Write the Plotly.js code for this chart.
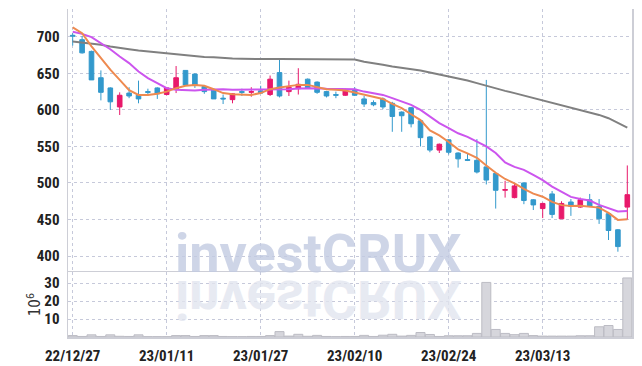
<!DOCTYPE html>
<html>
<head>
<meta charset="utf-8">
<script src="https://cdn.plot.ly/plotly-3.0.1.min.js"></script>
<style>
html,body{margin:0;padding:0;background:#fff;}
#chart{width:642px;height:366px;}
</style>
</head>
<body>
<div id="chart"></div>
<script>
const dates = ["2022-12-27","2022-12-28","2022-12-29","2023-01-02","2023-01-03","2023-01-04","2023-01-05","2023-01-06","2023-01-09","2023-01-10",
"2023-01-11","2023-01-12","2023-01-13","2023-01-16","2023-01-17","2023-01-18","2023-01-19","2023-01-20","2023-01-25","2023-01-26",
"2023-01-27","2023-01-30","2023-01-31","2023-02-01","2023-02-02","2023-02-03","2023-02-06","2023-02-07","2023-02-08","2023-02-09",
"2023-02-10","2023-02-13","2023-02-14","2023-02-15","2023-02-16","2023-02-17","2023-02-20","2023-02-21","2023-02-22","2023-02-23",
"2023-02-24","2023-02-27","2023-02-28","2023-03-02","2023-03-03","2023-03-06","2023-03-07","2023-03-08","2023-03-09","2023-03-10",
"2023-03-13","2023-03-14","2023-03-15","2023-03-16","2023-03-17","2023-03-20","2023-03-21","2023-03-22","2023-03-23","2023-03-24"];

const openP  = [702,696,680,644,630,604,623,620,625,630, 621,628,654,649,632,627,616,614,625,624, 626,621,651,625,629,642,638,625,621,620, 628,615,610,615,609,597,603,585,563,545, 559,541,532,531,522,513,490,480,500,477, 465,485,451,474,467,477,468,458,436,467];
const highP  = [705,701,681,654,631,624,631,640,629,631, 631,660,654,650,634,628,621,623,629,631, 633,647,669,640,657,643,639,626,625,629, 631,619,613,617,611,598,604,586,564,554, 560,542,541,560,641,514,503,500,501,478, 473,489,475,478,480,485,478,459,437,524];
const lowP   = [688,677,641,613,600,593,616,609,619,615, 620,623,633,630,622,615,608,609,619,618, 622,619,617,619,621,629,622,617,616,619, 619,604,605,601,570,570,576,550,542,541, 539,521,530,513,498,465,480,479,471,463, 452,452,451,455,466,467,444,422,406,450];
const closeP = [701,678,641,624,611,620,619,615,624,622, 630,644,634,634,625,615,615,622,624,625, 623,642,619,631,635,630,624,619,620,628, 620,608,607,604,591,592,581,562,545,553, 542,533,531,515,504,490,491,496,476,470, 472,457,472,468,477,468,451,435,413,484];

const ma5  = [713,705,687,671,655,641,627,620.5,620.5,622, 625,629.7,633,634,633,628.3,623,621.5,620.5,620.5, 623,628.3,630.6,632,634.2,634.2,631,628.3,627.4,626.5, 623.7,620.5,618.2,615,608.2,602.3,594,586,572,565, 556,546,540.5,534.5,524,514,505.5,499.5,492,485.5, 481.2,474.2,469.7,468.6,468.8,468,466.3,459,449.5,450.5];
const ma10 = [707,704,699.5,691.3,683,673,664,652.5,643.4,636.6, 629.7,627.4,627,626.5,627.4,628.3,628.3,627.4,627.4,627.4, 627.4,627.4,628.3,628.3,629.2,629.7,629.7,628.8,628.8,628.8, 628.3,625,622.9,620.5,616,611.4,606.8,600,591,582, 575,568,563,556,550,541,528,522,518,511, 504,495,488,481,478,476,470,465,461,461.6];
const ma60 = [693.6,692.2,690.4,689,686.7,684.5,683,681.3,680,678.5, 677.7,676.3,674.4,673,672.2,672,670.8,670.3,669.9,669.5, 669.5,669.5,669.5,669.5,669,669,668.5,668.5,668.5,669, 669,665.8,664,661.6,659.3,657.5,655.7,653.9,651,648.4, 645.7,643,640.2,636.6,632.9,629.2,626,622.9,619.6,616.8, 613.7,610,606.8,603.7,600,596.3,593.1,588.6,581.8,575.8];

const volume = [0.8,0.3,1.2,0.3,1.2,0.4,0.3,1.2,0.2,0.2, 0.2,0.8,0.8,0.3,0.8,0.8,0.3,0.2,0.2,0.3, 0.3,0.8,3.0,0.5,1.5,0.4,0.9,0.3,0.2,0.3, 0.3,0.9,0.3,1.0,1.5,0.5,0.9,2.5,1.4,0.3, 0.7,0.7,0.7,2.0,30.4,4.2,2.0,1.3,2.0,0.8, 0.5,0.5,0.5,0.5,0.7,0.7,5.7,6.4,4.2,32.9];

const tickIdx = [0,10,20,30,40,50];
const tickLabels = ["22/12/27","23/01/11","23/01/27","23/02/10","23/02/24","23/03/13"];
const priceTicks = [400,450,500,550,600,650,700];
const volTicks = [10,20,30];

const UP = '#e8196b', DOWN = '#3399cc';
const gridC = '#c6c9da', lineC = '#cdced6';
const tickFont = {family: '"Liberation Sans Narrow","Roboto Condensed","DejaVu Sans Condensed",sans-serif', size: 15, color: '#222', weight: 'bold'};

const traces = [
  {type:'candlestick', x:dates, open:openP, high:highP, low:lowP, close:closeP,
   xaxis:'x', yaxis:'y', hoverinfo:'skip', showlegend:false, whiskerwidth:0,
   increasing:{line:{color:UP,width:1}, fillcolor:UP},
   decreasing:{line:{color:DOWN,width:1}, fillcolor:DOWN}},
  {type:'scatter', mode:'lines', x:dates, y:ma60, xaxis:'x', yaxis:'y', line:{color:'#808080', width:2}, hoverinfo:'skip', showlegend:false},
  {type:'scatter', mode:'lines', x:dates, y:ma10, xaxis:'x', yaxis:'y', line:{color:'#cc55ee', width:2}, hoverinfo:'skip', showlegend:false},
  {type:'scatter', mode:'lines', x:dates, y:ma5, xaxis:'x', yaxis:'y', line:{color:'#ee8a50', width:2}, hoverinfo:'skip', showlegend:false},
  {type:'bar', x:dates, y:volume, xaxis:'x', yaxis:'y2', marker:{color:'#d6d6dc', line:{color:'#bcbcc4', width:1}}, hoverinfo:'skip', showlegend:false}
];

const layout = {
  width:642, height:366,
  margin:{l:68, r:10, t:9, b:29},
  paper_bgcolor:'#fff', plot_bgcolor:'#fff',
  bargap:0.04,
  showlegend:false,
  xaxis:{type:'category', range:[-0.5,59.5], anchor:'y2', rangeslider:{visible:false},
    tickvals:tickIdx.map(i=>dates[i]), ticktext:tickLabels, tickfont:tickFont, ticks:'', ticklabelstandoff:4,
    showgrid:true, gridcolor:gridC, griddash:'dot', gridwidth:1,
    showline:true, linecolor:lineC, linewidth:1.5, mirror:true, zeroline:false, fixedrange:true},
  yaxis:{domain:[0.197,1], range:[377.7,738], tickvals:priceTicks, tickfont:tickFont, ticks:'', ticklabelstandoff:4,
    showgrid:true, gridcolor:gridC, griddash:'dot', gridwidth:1, zeroline:false,
    showline:true, linecolor:lineC, linewidth:1.5, mirror:true},
  yaxis2:{domain:[0,0.197], range:[0,36], tickvals:volTicks, tickfont:tickFont, ticks:'', ticklabelstandoff:4,
    showgrid:true, gridcolor:gridC, griddash:'dot', gridwidth:1, zeroline:false,
    showline:true, linecolor:lineC, linewidth:1.5, mirror:true,
    title:{text:'10<sup>6</sup>', font:{family:'"Liberation Sans Narrow","DejaVu Sans Condensed",sans-serif', size:15, color:'#333'}, standoff:0}},
  annotations:[
    {text:'investCRUX', xref:'paper', yref:'paper', x:0.445, y:0.255, xanchor:'center', yanchor:'middle', showarrow:false,
     font:{family:'Roboto, sans-serif', size:54, color:'#c3cbe2', weight:'bold'}, opacity:0.8},
    {text:'investCRUX', xref:'paper', yref:'paper', x:0.445, y:0.113, xanchor:'center', yanchor:'middle', showarrow:false,
     font:{family:'Roboto, sans-serif', size:54, color:'#e2e5ef', weight:'bold'}, opacity:0.8}
  ]
};

Plotly.newPlot('chart', traces, layout, {staticPlot:true, displayModeBar:false}).then(function(){
  const anns = document.querySelectorAll('.annotation');
  if (anns.length > 1) {
    const t = anns[1].querySelector('text');
    if (t) { t.style.transformBox = 'fill-box'; t.style.transformOrigin = 'center'; t.style.transform = 'scaleY(-1)'; }
  }
});
</script>
</body>
</html>
